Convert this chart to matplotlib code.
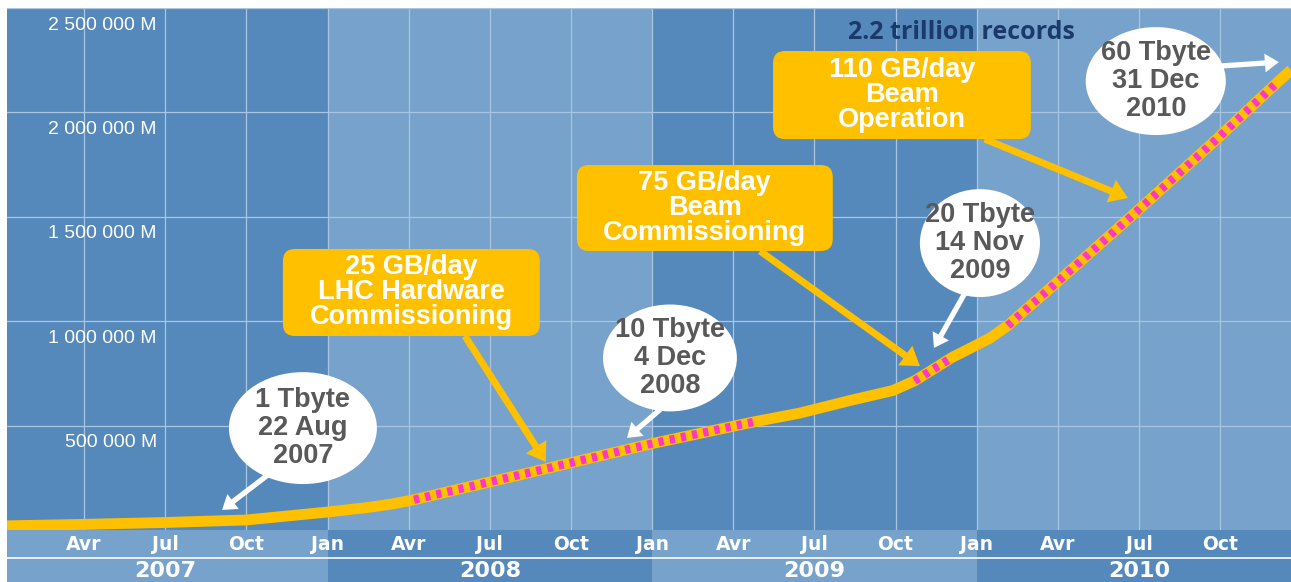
import matplotlib
matplotlib.use("Agg")
import matplotlib.pyplot as plt
from matplotlib.patches import Ellipse, FancyBboxPatch, FancyArrowPatch
import numpy as np

# x = months since Jan 2007, y = cumulative records (in M)
months = [0.15, 3, 6, 9, 12, 13.5, 14.4, 15.2, 16.5, 18, 21, 24, 27.73,
          29.46, 31.31, 32.9, 33.7, 34.53, 35.08, 35.86, 36.49, 37.15,
          37.71, 38.85, 41.85, 44.84, 47.1, 47.62]
records = [20e3, 27e3, 36e3, 48e3, 86e3, 108e3, 125e3, 145e3, 185e3, 230e3,
           322e3, 414e3, 517e3, 560e3, 620e3, 668e3, 714e3, 781e3, 826e3,
           877e3, 919e3, 979e3, 1044e3, 1173e3, 1518e3, 1868e3, 2142e3, 2203e3]
# stretches drawn with the magenta dash (month ranges)
dashed_ranges = [(15.2, 27.73), (33.7, 35.08), (37.15, 47.1)]

years = ["2007", "2008", "2009", "2010"]
month_names = ["Jan", "Avr", "Jul", "Oct"]
ytick_vals = [500e3, 1000e3, 1500e3, 2000e3, 2500e3]
ytick_labels = ["500 000 M", "1 000 000 M", "1 500 000 M", "2 000 000 M", "2 500 000 M"]

# milestones: text, centre (month, value), ellipse size, arrow tail -> tip
milestones = [
    ("1 Tbyte\n22 Aug\n2007", (11.09, 488e3), (5.47, 536e3), (9.94, 278e3), (8.10, 96e3)),
    ("10 Tbyte\n4 Dec\n2008", (24.66, 824e3), (4.95, 512e3), (24.36, 584e3), (23.07, 441e3)),
    ("20 Tbyte\n14 Nov\n2009", (36.12, 1374e3), (4.44, 517e3), (35.67, 1159e3), (34.42, 872e3)),
    ("60 Tbyte\n31 Dec\n2010", (42.62, 2150e3), (5.18, 517e3), (44.99, 2222e3), (47.17, 2241e3)),
]
# rate boxes: text, (x0, y0, x1, y1), arrow tail -> tip
rates = [
    ("25 GB/day\nLHC Hardware\nCommissioning", (10.35, 929e3, 19.85, 1346e3), (17.08, 929e3), (20.07, 326e3)),
    ("75 GB/day\nBeam\nCommissioning", (21.22, 1336e3, 30.68, 1748e3), (27.99, 1336e3), (33.90, 785e3)),
    ("110 GB/day\nBeam\nOperation", (28.47, 1872e3, 38.0, 2294e3), (36.30, 1872e3), (41.59, 1590e3)),
]

dark = "#5589bb"
light = "#77a2cb"
grid = "#a9c5e2"
gold = "#ffc000"
pink = "#ff36c8"

fig = plt.figure(figsize=(12.91, 5.82), dpi=100)
ax = fig.add_axes([7 / 1291, 52 / 582, 1284 / 1291, 522 / 582])
ax.set_xlim(0.15, 47.62)
ax.set_ylim(0, 2.5e6)
ax.axis("off")

for i in range(len(years)):
    ax.axvspan(12 * i, 12 * (i + 1), color=dark if i % 2 == 0 else light, lw=0, zorder=0)
for q in range(3, 48, 3):
    ax.axvline(q, color=grid, lw=0.9, zorder=1)
for v, lab in zip(ytick_vals, ytick_labels):
    ax.axhline(v, color=grid, lw=0.9, zorder=1)
    ax.annotate(lab, (5.69, v), xytext=(0, -17), textcoords="offset pixels",
                ha="right", va="center", color="white", fontsize=14,
                family="Liberation Sans", zorder=2)

m = np.array(months)
r = np.array(records)
ax.plot(m, r, color=gold, lw=7.8, solid_capstyle="butt", solid_joinstyle="round", zorder=3)
for a, b in dashed_ranges:
    sel = (m >= a - 1e-9) & (m <= b + 1e-9)
    ax.plot(m[sel], r[sel], color=pink, lw=6, dashes=(0.62, 0.75),
            dash_capstyle="butt", zorder=4)

ell_font = dict(family="Liberation Sans", fontweight="bold", fontsize=19.5, linespacing=1.1)
box_font = dict(family="Liberation Sans", fontweight="bold", fontsize=19.5, linespacing=0.95)

for txt, c, size, tail, tip in milestones:
    arr = FancyArrowPatch(tail, tip, arrowstyle="simple,head_length=1.0,head_width=1.35,tail_width=0.38",
                          mutation_scale=10, color="white", lw=0, shrinkA=0, shrinkB=0, zorder=5)
    ax.add_patch(arr)
    ax.add_patch(Ellipse(c, size[0], size[1], facecolor="white", edgecolor="none", zorder=6))
    ax.text(c[0], c[1], txt, ha="center", va="center", color="#595959", zorder=7, **ell_font)

aspect = 2.5e6 / 522 * (1284 / (47.62 - 0.15))
for txt, (x0, y0, x1, y1), tail, tip in rates:
    arr = FancyArrowPatch(tail, tip, arrowstyle="simple,head_length=1.3,head_width=1.75,tail_width=0.5",
                          mutation_scale=10, color=gold, lw=0, shrinkA=0, shrinkB=0, zorder=5)
    ax.add_patch(arr)
    box = FancyBboxPatch((x0, y0), x1 - x0, y1 - y0, boxstyle="round,pad=0,rounding_size=0.45",
                         mutation_aspect=aspect, facecolor=gold, edgecolor="none", zorder=6)
    ax.add_patch(box)
    ax.text((x0 + x1) / 2, (y0 + y1) / 2, txt, ha="center", va="center", color="white",
            zorder=7, **box_font)

ax.text(35.42, 2385e3, "2.2 trillion records", ha="center", va="center", color="#1b3a6b",
        fontsize=18, fontweight="bold", family="Open Sans", zorder=7)

# date band under the chart
bax = fig.add_axes([7 / 1291, 0, 1284 / 1291, 52 / 582])
bax.set_xlim(0.15, 47.62)
bax.set_ylim(0, 52)
bax.axis("off")
for i, y in enumerate(years):
    bax.axvspan(12 * i, 12 * (i + 1), color=light if i % 2 == 0 else dark, lw=0, zorder=0)
    bax.text(12 * i + 6, 11, y, ha="center", va="center", color="white", fontsize=16,
             family="DejaVu Sans", fontweight="bold")
bax.axhline(24, color="white", lw=1.2, zorder=1)
for q in range(3, 48, 3):
    bax.text(q, 38, month_names[(q // 3) % 4], ha="center", va="center", color="white",
             fontsize=13.5, family="DejaVu Sans", fontweight="bold")

fig.savefig("out.png", dpi=100)
